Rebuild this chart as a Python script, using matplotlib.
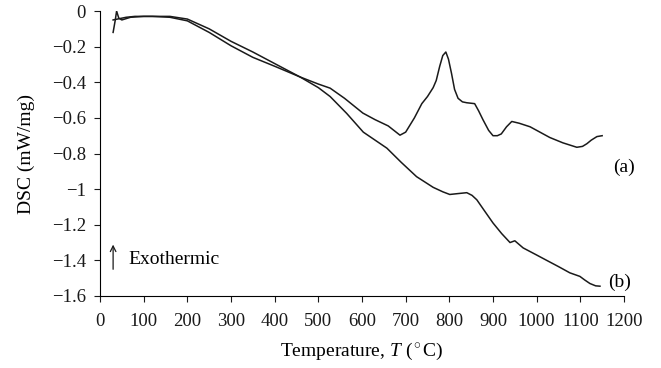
import matplotlib
matplotlib.use("Agg")
import matplotlib.pyplot as plt

plt.rcParams['font.family'] = ['Liberation Serif', 'DejaVu Serif']
plt.rcParams['mathtext.fontset'] = 'custom'
plt.rcParams['mathtext.rm'] = 'Liberation Serif'
plt.rcParams['mathtext.it'] = 'Liberation Serif:italic'

# curve (a)
temp_a = [30, 40, 60, 80, 120, 160, 200, 250, 300, 350, 400, 458, 500, 527, 560, 602,
          630, 660, 687, 700, 720, 737, 750, 763, 770, 778, 785, 792, 798, 805, 812, 820,
          830, 840, 858, 867, 877, 890, 900, 910, 919, 931, 943, 960, 985, 1030, 1060,
          1092, 1105, 1115, 1125, 1138, 1150]
dsc_a = [-0.05, -0.045, -0.035, -0.03, -0.03, -0.035, -0.055, -0.12, -0.195, -0.26, -0.31,
         -0.37, -0.41, -0.433, -0.49, -0.573, -0.61, -0.645, -0.697, -0.68, -0.6, -0.52,
         -0.48, -0.43, -0.39, -0.31, -0.25, -0.23, -0.27, -0.35, -0.44, -0.49,
         -0.51, -0.515, -0.52, -0.56, -0.61, -0.67, -0.70, -0.70, -0.69,
         -0.65, -0.62, -0.63, -0.65, -0.71, -0.74, -0.765, -0.76, -0.745, -0.725, -0.705, -0.70]

# curve (b)
temp_b = [30, 35, 38, 43, 50, 70, 100, 160, 200, 250, 300, 350, 400, 458, 500, 527, 565,
          603, 630, 657, 690, 725, 763, 785, 801, 820, 840, 852, 863, 880, 900, 920, 939,
          950, 969, 1000, 1023, 1050, 1076, 1099, 1110, 1122, 1135, 1145]
dsc_b = [-0.12, -0.05, 0.0, -0.04, -0.05, -0.035, -0.03, -0.03, -0.045, -0.10, -0.17,
         -0.23, -0.295, -0.37, -0.43, -0.48, -0.575, -0.68, -0.725, -0.77, -0.85, -0.93,
         -0.99, -1.015, -1.03, -1.025, -1.02, -1.035, -1.06, -1.12, -1.19, -1.25, -1.30,
         -1.29, -1.33, -1.37, -1.40, -1.435, -1.47, -1.49, -1.51, -1.53, -1.543, -1.545]

x_ticks = list(range(0, 1201, 100))
y_ticks = [0, -0.2, -0.4, -0.6, -0.8, -1, -1.2, -1.4, -1.6]
y_labels = ['0', '\u22120.2', '\u22120.4', '\u22120.6', '\u22120.8', '\u22121',
            '\u22121.2', '\u22121.4', '\u22121.6']

fig = plt.figure(figsize=(6.61, 3.68), dpi=100)
ax = fig.add_axes([0.1513, 0.1957, 0.7927, 0.7743])

ax.plot(temp_a, dsc_a, color='#1a1a1a', linewidth=1.1)
ax.plot(temp_b, dsc_b, color='#1a1a1a', linewidth=1.1)

ax.set_xlim(0, 1200)
ax.set_ylim(-1.6, 0)
ax.set_xticks(x_ticks)
ax.set_yticks(y_ticks)
ax.set_yticklabels(y_labels)
ax.tick_params(labelsize=13.5, direction='out', length=4, width=0.8, colors='#1a1a1a')
ax.tick_params(axis='x', pad=8)
ax.tick_params(axis='y', pad=6)
for s in ['top', 'right']:
    ax.spines[s].set_visible(False)
for s in ['left', 'bottom']:
    ax.spines[s].set_linewidth(0.8)

ax.set_xlabel('Temperature, $T$ ($^\\circ$C)', fontsize=14, labelpad=8)
ax.set_ylabel('DSC (mW/mg)', fontsize=14, labelpad=12)

ax.text(0.979, 0.453, '(a)', transform=ax.transAxes, fontsize=14, va='center', ha='left')
ax.text(0.969, 0.049, '(b)', transform=ax.transAxes, fontsize=14, va='center', ha='left')
ax.annotate('', xy=(0.025, 0.19), xytext=(0.025, 0.084), xycoords='axes fraction',
            arrowprops=dict(arrowstyle='->', color='#1a1a1a', lw=0.9))
ax.text(0.055, 0.112, 'Exothermic', transform=ax.transAxes, fontsize=14, va='baseline', ha='left')

fig.savefig('out.png', dpi=100)
